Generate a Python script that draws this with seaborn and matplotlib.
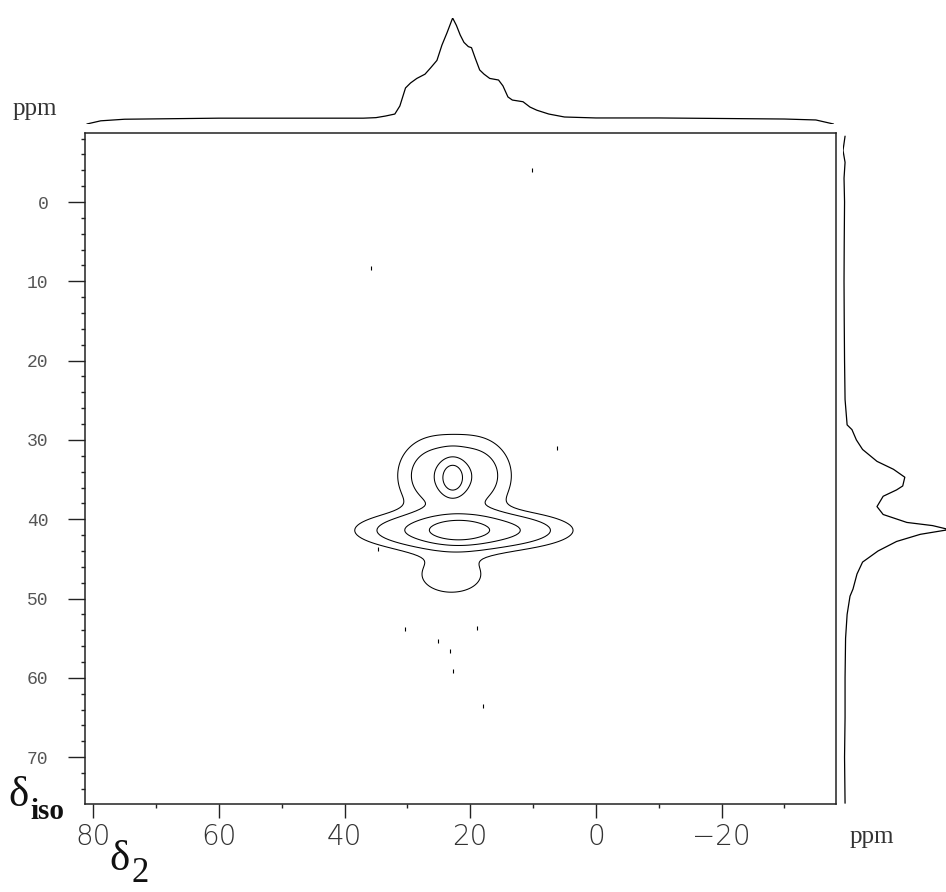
import numpy as np
import pandas as pd
import matplotlib
matplotlib.use("Agg")
import matplotlib.pyplot as plt
import seaborn as sns

# ---------------- data ----------------
# top projection (delta_2 axis, ppm) and relative intensity
top_ppm = [81.0, 78.8, 75, 60, 45, 37, 35, 33.5, 32, 31.2, 30.3, 29.5, 28.5, 27.2,
           26.3, 25.3, 24.5, 23.7, 22.8, 22.2, 21.6, 21.0, 20.3, 19.8, 19.2, 18.5,
           17.8, 16.9, 15.5, 14.8, 14.0, 13.3, 11.6, 10.5, 9.4, 7.5, 5, 0, -10,
           -20, -30, -35, -37.8]
top_int = [0.0, 0.03, 0.045, 0.055, 0.055, 0.055, 0.06, 0.075, 0.094, 0.17, 0.34,
           0.387, 0.43, 0.47, 0.53, 0.60, 0.745, 0.86, 1.0, 0.93, 0.84, 0.77, 0.73,
           0.72, 0.62, 0.51, 0.47, 0.43, 0.415, 0.36, 0.255, 0.226, 0.21, 0.16,
           0.13, 0.094, 0.066, 0.057, 0.057, 0.052, 0.047, 0.038, 0.0]

# right projection (delta_iso axis, ppm) and relative intensity
side_ppm = [-8.3, -6.5, -5, -3, 0, 5, 10, 15, 20, 24.9, 28.1, 28.7, 30.0, 31.2,
            32.7, 33.7, 34.7, 35.8, 36.3, 37.1, 38.4, 39.4, 40.4, 40.8, 41.3, 41.9,
            42.8, 44.0, 45.4, 46.9, 48.8, 49.7, 52, 55, 60, 65, 70, 75.8]
side_int = [0.02, 0.0, 0.02, 0.01, 0.015, 0.012, 0.01, 0.012, 0.015, 0.02, 0.04,
            0.087, 0.13, 0.19, 0.33, 0.49, 0.60, 0.58, 0.52, 0.39, 0.33, 0.39, 0.62,
            0.87, 1.03, 0.75, 0.52, 0.34, 0.19, 0.136, 0.097, 0.068, 0.04, 0.025,
            0.02, 0.02, 0.015, 0.02]

# 2D peak components (delta_2 centre, delta_iso centre, widths, amplitude)
comp_d2 = [21.0, 22.0, 22.8, 26.0, 19.0, 23.0]
comp_diso = [41.4, 41.4, 34.8, 34.5, 34.5, 47.0]
comp_w2 = [9.0, 3.0, 1.3, 3.8, 3.8, 5.5]
comp_wiso = [1.45, 1.0, 1.4, 3.2, 3.2, 2.6]
comp_amp = [0.45, 0.30, 0.50, 0.20, 0.20, 0.10]
contour_levels = [0.07, 0.14, 0.28, 0.50, 0.85]

# isolated noise specks
speck_d2 = [10.2, 35.8, 18.0, 6.2, 30.4, 22.8, 25.2, 23.2, 19.0, 34.7]
speck_diso = [-4.0, 8.3, 63.5, 31.0, 53.8, 59.1, 55.3, 56.6, 53.7, 43.8]

x_ticks = [80, 60, 40, 20, 0, -20]
y_ticks = [0, 10, 20, 30, 40, 50, 60, 70]

# ---------------- figure ----------------
sns.set_theme(style="white")
plt.rcParams["font.family"] = ["DejaVu Sans"]

W, H = 946, 892
fig = plt.figure(figsize=(W / 100, H / 100), dpi=100)


def rect(x0, y0, x1, y1):
    return [x0 / W, 1 - y1 / H, (x1 - x0) / W, (y1 - y0) / H]


XL = (81.3, -38.2)
YL = (75.9, -8.7)

ax = fig.add_axes(rect(85, 133, 836, 804))
ax_top = fig.add_axes(rect(85, 18, 836, 124))
ax_side = fig.add_axes(rect(843, 133, 946, 804))

# 2D model surface
d2 = np.linspace(XL[1], XL[0], 500)
diso = np.linspace(YL[1], YL[0], 420)
X, Y = np.meshgrid(d2, diso)
Z = np.zeros_like(X)
for c2, ci, s2, si, a in zip(comp_d2, comp_diso, comp_w2, comp_wiso, comp_amp):
    Z += a * np.exp(-((X - c2) ** 2) / (2 * s2 ** 2) - ((Y - ci) ** 2) / (2 * si ** 2))

ax.contour(X, Y, Z, levels=contour_levels, colors="black", linewidths=0.75)

specks = pd.DataFrame({"d2": speck_d2, "diso": speck_diso})
sns.scatterplot(data=specks, x="d2", y="diso", ax=ax, marker="|", s=12,
                color="black", linewidth=0.8, legend=False)

ax.set_xlim(*XL)
ax.set_ylim(*YL)
ax.set_xlabel("")
ax.set_ylabel("")
for sp in ax.spines.values():
    sp.set_visible(True)
    sp.set_color("#222222")
    sp.set_linewidth(1.1)

ax.set_xticks(x_ticks)
ax.set_xticklabels([f"{v}" if v >= 0 else f"\u2212{-v}" for v in x_ticks])
ax.set_xticks(np.arange(70, -40, -20), minor=True)
ax.set_yticks(y_ticks)
ax.set_yticklabels([str(v) for v in y_ticks])
ax.set_yticks(np.arange(-8, 76, 2), minor=True)

ax.tick_params(axis="x", which="major", direction="out", length=10, width=1.0,
               color="#222222", bottom=True, top=False, pad=4,
               labelsize=20, labelcolor="#333333")
ax.tick_params(axis="x", which="minor", direction="out", length=3, width=1.0,
               color="#222222", bottom=True, top=False)
ax.tick_params(axis="y", which="major", direction="out", length=12, width=1.0,
               color="#222222", left=True, right=False, pad=14.5,
               labelsize=13, labelcolor="#555555")
ax.tick_params(axis="y", which="minor", direction="out", length=3, width=1.0,
               color="#222222", left=True, right=False)
for lab in ax.get_yticklabels():
    lab.set_family(["Liberation Mono", "DejaVu Sans Mono"])
for lab in ax.get_xticklabels():
    lab.set_family(["DejaVu Sans"])
    lab.set_fontweight("light")

# top projection
top_df = pd.DataFrame({"ppm": top_ppm, "inten": top_int})
sns.lineplot(data=top_df, x="ppm", y="inten", ax=ax_top, color="black",
             linewidth=0.9, sort=False, estimator=None)
ax_top.set_xlim(*XL)
ax_top.set_ylim(0, 1)
ax_top.axis("off")

# side projection
side_df = pd.DataFrame({"ppm": side_ppm, "inten": side_int})
sns.lineplot(data=side_df, x="inten", y="ppm", ax=ax_side, color="black",
             linewidth=0.9, sort=False, estimator=None, orient="y")
ax_side.set_ylim(*YL)
ax_side.set_xlim(0, 1)
ax_side.axis("off")

# labels
def ftxt(x, y, s, **kw):
    fig.text(x / W, 1 - y / H, s, **kw)

serif = ["Liberation Serif", "DejaVu Serif"]
ftxt(13, 115, "ppm", fontsize=18, family=serif, color="#333333", va="baseline")
ftxt(850, 843, "ppm", fontsize=18, family=serif, color="#333333", va="baseline")
ftxt(8, 806, "\u03b4", fontsize=31, family=serif, color="#111111", va="baseline")
ftxt(30, 819, "iso", fontsize=21, family=serif, fontweight="bold", color="#111111",
     va="baseline")
ftxt(109, 870, "\u03b4", fontsize=31, family=serif, color="#111111", va="baseline")
ftxt(131, 882, "2", fontsize=25, family=serif, color="#111111", va="baseline")

fig.savefig("out.png", dpi=100)
